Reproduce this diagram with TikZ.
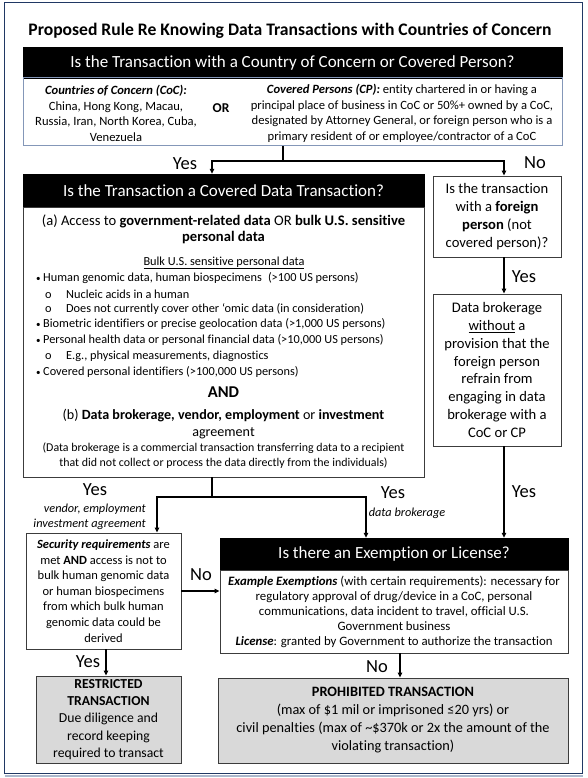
\documentclass[tikz,border=0pt]{standalone}
\usepackage{fontspec}
\setmainfont{Carlito}[Ligatures={NoCommon,NoContextual}]
\usetikzlibrary{arrows.meta, positioning}
\definecolor{framenavy}{RGB}{32,56,100}
\definecolor{shadowgray}{RGB}{172,184,204}
\definecolor{topedge}{RGB}{132,151,184}
\definecolor{boxedge}{RGB}{60,60,60}
\definecolor{outcomegray}{RGB}{217,217,217}
\newcommand{\fsz}[2]{\fontsize{#1}{#2}\selectfont}

\begin{document}
\begin{tikzpicture}[x=1pt, y=-1pt, >={Triangle[length=5pt, width=4.5pt]},
    hdr/.style={draw=black, fill=black, text=white, inner sep=0pt, font=\fsz{17}{20}},
    panel/.style={draw=boxedge, line width=0.9pt, fill=white, inner sep=0pt, align=center},
    outcome/.style={panel, fill=outcomegray},
    txt/.style={inner sep=0pt, align=center},
    lbl/.style={inner sep=0pt, font=\fsz{18.5}{20}},
    note/.style={inner sep=0pt, align=right, font=\itshape\fsz{12.3}{15}},
    link/.style={line width=1.2pt}]
    \useasboundingbox (0,0) rectangle (588,778);
    \draw[shadowgray, line width=2pt] (5,775.5) -- (583,775.5);
    \draw[framenavy, line width=1pt] (4,3) rectangle (582,773);

    \node[txt, font=\bfseries\fsz{17.6}{20}] (title) at (290,31) {Proposed Rule Re Knowing Data Transactions with Countries of Concern};

    % first question
    \node[hdr, minimum width=539, minimum height=31] (tophdr) at (292.5,62.5) {Is the Transaction with a Country of Concern or Covered Person?};
    \node[draw=topedge, line width=1pt, inner sep=0pt, minimum width=539, minimum height=68] (topbody) at (292.5,112) {};
    \node[txt, font=\fsz{12.6}{15.5}] (coc) at (116,113.5) {\textbf{\textit{Countries of Concern (CoC):}}\\China, Hong Kong, Macau,\\Russia, Iran, North Korea, Cuba,\\Venezuela};
    \node[txt, font=\bfseries\fsz{13.5}{15}] (or) at (221,108) {OR};
    \node[txt, font=\fsz{12.6}{15.5}] (cp) at (402,113.5) {\textbf{\textit{Covered Persons (CP):}} entity chartered in or having a\\principal place of business in CoC or 50\%+ owned by a CoC,\\designated by Attorney General, or foreign person who is a\\primary resident of or employee/contractor of a CoC};

    % covered data transaction
    \node[hdr, minimum width=401, minimum height=33] (covhdr) at (223.5,190.5) {Is the Transaction a Covered Data Transaction?};
    \node[panel, minimum width=401, minimum height=270] (covbody) at (223.5,342) {};
    \node[txt, font=\fsz{14.6}{16}] (parta) at (223.5,229) {(a) Access to \textbf{government-related data} OR \textbf{bulk U.S. sensitive}\\\textbf{personal data}};
    \node[txt, font=\fsz{12.3}{14}] (bulkhead) at (224,263) {\underline{Bulk U.S. sensitive personal data}};
    \node[txt, anchor=west, font=\fsz{12.3}{14}] (b1) at (36,278) {\makebox[7pt][l]{\fsz{9}{9}•}Human genomic data, human biospecimens\enspace(>100 US persons)};
    \node[txt, anchor=west, font=\fsz{12.3}{14}] (b1a) at (45,294) {\makebox[21pt][l]{o}Nucleic acids in a human};
    \node[txt, anchor=west, font=\fsz{12.3}{14}] (b1b) at (45,309) {\makebox[21pt][l]{o}Does not currently cover other ‘omic data (in consideration)};
    \node[txt, anchor=west, font=\fsz{12.3}{14}] (b2) at (36,324) {\makebox[7pt][l]{\fsz{9}{9}•}Biometric identifiers or precise geolocation data (>1,000 US persons)};
    \node[txt, anchor=west, font=\fsz{12.3}{14}] (b3) at (36,340) {\makebox[7pt][l]{\fsz{9}{9}•}Personal health data or personal financial data (>10,000 US persons)};
    \node[txt, anchor=west, font=\fsz{12.3}{14}] (b3a) at (45,356) {\makebox[21pt][l]{o}E.g., physical measurements, diagnostics};
    \node[txt, anchor=west, font=\fsz{12.3}{14}] (b4) at (36,372) {\makebox[7pt][l]{\fsz{9}{9}•}Covered personal identifiers (>100,000 US persons)};
    \node[txt, font=\bfseries\fsz{16.5}{18}] (and) at (223.5,392) {AND};
    \node[txt, font=\fsz{14.1}{17}] (partb) at (223.5,424.5) {(b) \textbf{Data brokerage, vendor, employment} or \textbf{investment}\\agreement};
    \node[txt, font=\fsz{11.9}{15}] (brokdef) at (223.5,455.5) {(Data brokerage is a commercial transaction transferring data to a recipient\\that did not collect or process the data directly from the individuals)};

    % foreign person branch
    \node[panel, minimum width=128, minimum height=81, font=\fsz{14.6}{18}] (foreign) at (497,216.5) {Is the transaction\\with a \textbf{foreign}\\\textbf{person} (not\\covered person)?};
    \node[panel, minimum width=128, minimum height=152, font=\fsz{14.6}{17.8}] (brok) at (497,370) {Data brokerage\\\underline{without} a\\provision that the\\foreign person\\refrain from\\engaging in data\\brokerage with a\\CoC or CP};

    % security requirements
    \node[panel, minimum width=155, minimum height=116, font=\fsz{12.5}{15.6}] (secure) at (103.5,591) {\textbf{\textit{Security requirements}} are\\met \textbf{AND} access is not to\\bulk human genomic data\\or human biospecimens\\from which bulk human\\genomic data could be\\derived};

    % exemption or license
    \node[hdr, minimum width=348, minimum height=32] (exhdr) at (394,554) {Is there an Exemption or License?};
    \node[panel, minimum width=348, minimum height=83, font=\fsz{12.8}{15}] (exbody) at (394,611.5) {\textbf{\textit{Example Exemptions}} (with certain requirements): necessary for\\regulatory approval of drug/device in a CoC, personal\\communications, data incident to travel, official U.S.\\Government business\\\textbf{\textit{License}}: granted by Government to authorize the transaction};

    % outcomes
    \node[outcome, minimum width=145, minimum height=87, font=\fsz{13.7}{17.4}] (restricted) at (108.5,719.5) {\textbf{RESTRICTED}\\\textbf{TRANSACTION}\\Due diligence and\\record keeping\\required to transact};
    \node[outcome, minimum width=350, minimum height=85, font=\fsz{14.3}{18}] (prohib) at (393,720.5) {\textbf{PROHIBITED TRANSACTION}\\(max of \$1 mil or imprisoned ≤20 yrs) or\\civil penalties (max of \textasciitilde\$370k or 2x the amount of the\\violating transaction)};

    % connectors
    \coordinate (split1) at (283,161);
    \coordinate (split2) at (212,497);
    \draw[link] (topbody.south -| split1) -- (split1);
    \draw[link, ->] (split1) -| ([xshift=-11.5pt]covhdr.north);
    \draw[link, ->] (split1) -| ([xshift=7pt]foreign.north);
    \draw[link, ->] ([xshift=7pt]foreign.south) -- ([xshift=7pt]brok.north);
    \draw[link, ->] ([xshift=7pt]brok.south) -- ([xshift=7pt]brok.south |- exhdr.north);
    \draw[link] (covbody.south -| split2) -- (split2);
    \draw[link, ->] (split2) -| ([xshift=53.5pt]secure.north);
    \draw[link, ->] (split2) -| ([xshift=-28pt]exhdr.north);
    \draw[link, ->] (secure.east) -- (secure.east -| exbody.west);
    \draw[link, ->] ([xshift=2.5pt]secure.south) -- ([xshift=2.5pt]secure.south |- restricted.north);
    \draw[link, ->] ([xshift=6pt]exbody.south) -- ([xshift=6pt]exbody.south |- prohib.north);

    % connector labels
    \node[lbl] (yes1) at (185,164) {Yes};
    \node[lbl] (no1) at (535,163) {No};
    \node[lbl] (yes2) at (524,277) {Yes};
    \node[lbl] (yes3) at (95,490) {Yes};
    \node[note, anchor=east] (vendor) at (146,516.5) {vendor, employment\\investment agreement};
    \node[lbl] (yes4) at (393,493) {Yes};
    \node[note] (databrok) at (407,513) {data brokerage};
    \node[lbl] (yes5) at (524,492) {Yes};
    \node[lbl] (no2) at (201,575) {No};
    \node[lbl] (yes6) at (88,662) {Yes};
    \node[lbl] (no3) at (377,667) {No};
\end{tikzpicture}
\end{document}
